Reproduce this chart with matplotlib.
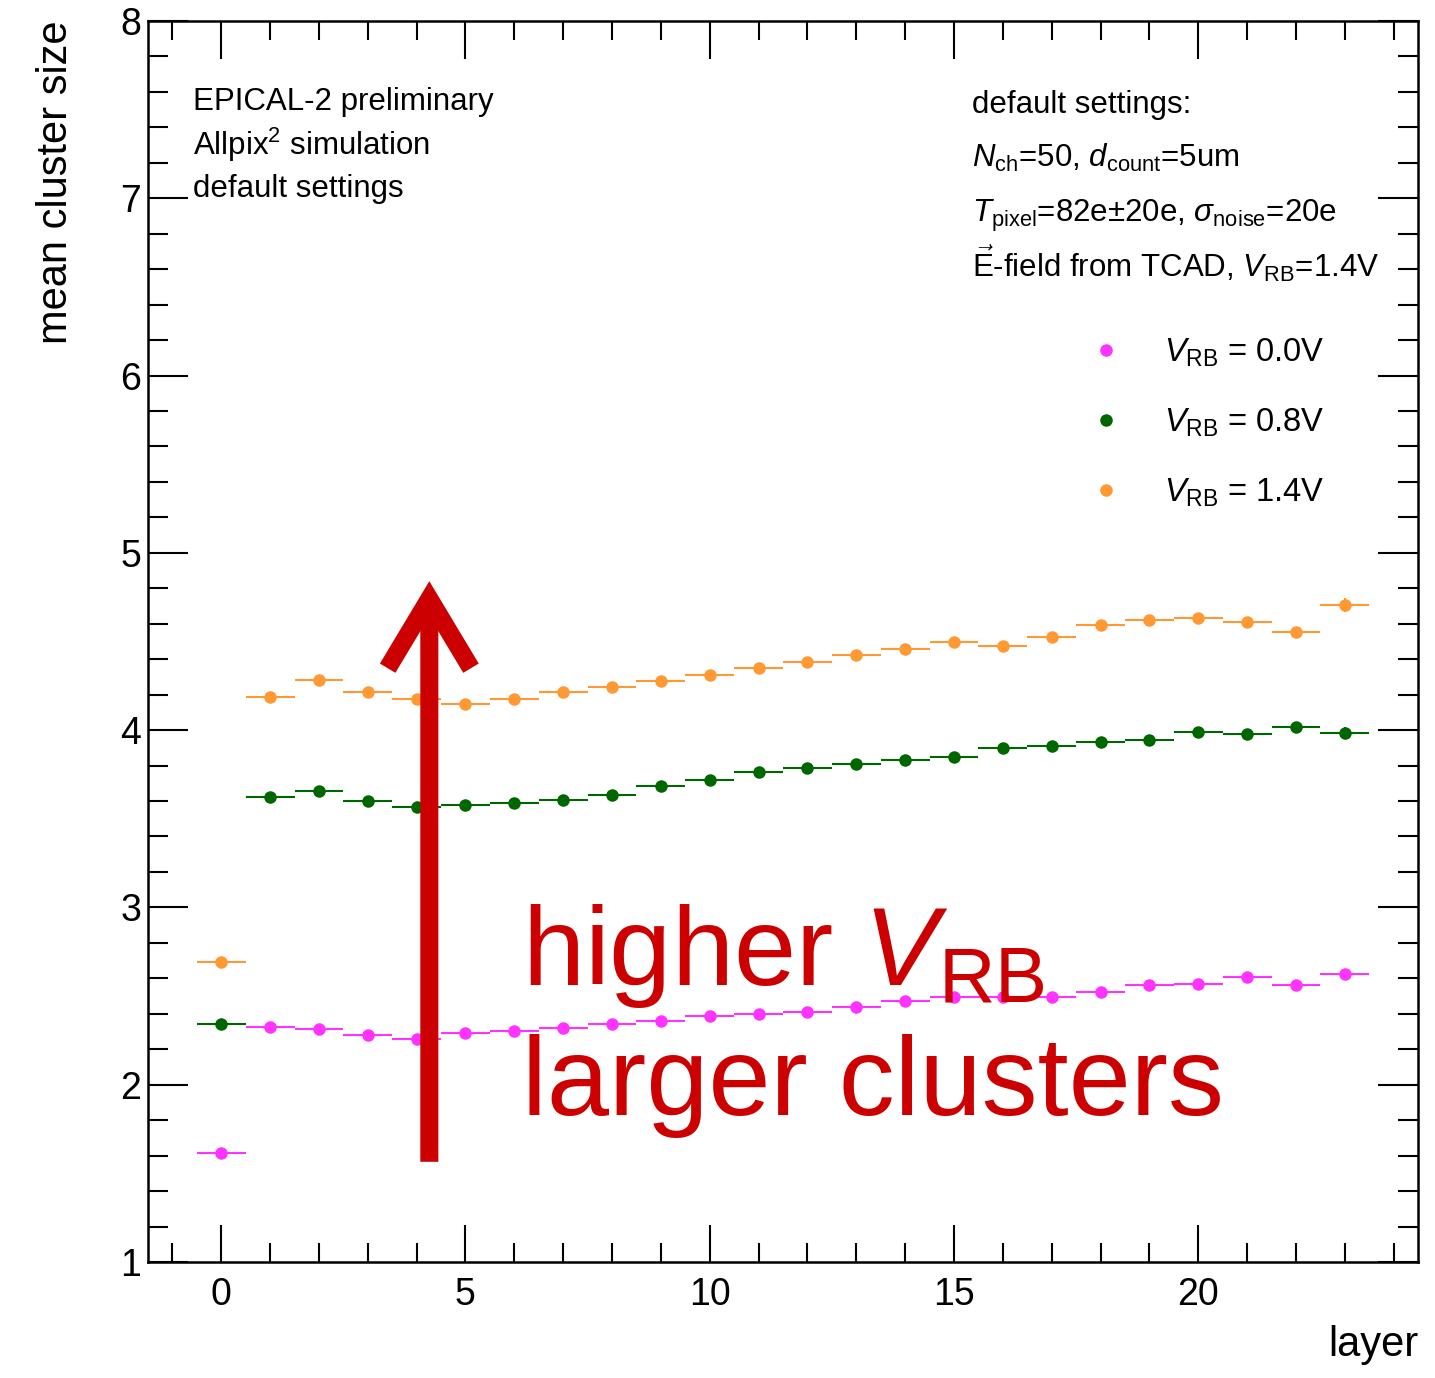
import numpy as np
import matplotlib
matplotlib.use('Agg')
import matplotlib.pyplot as plt
from matplotlib.lines import Line2D
from matplotlib.ticker import MultipleLocator

plt.rcParams['font.family'] = ['Liberation Sans', 'DejaVu Sans']
plt.rcParams['mathtext.fontset'] = 'custom'
plt.rcParams['mathtext.rm'] = 'Liberation Sans'
plt.rcParams['mathtext.it'] = 'Liberation Sans:italic'
plt.rcParams['mathtext.bf'] = 'Liberation Sans:bold'

# --- data ---
layers = list(range(24))

size_00 = [1.615, 2.326, 2.315, 2.28, 2.26, 2.29, 2.30, 2.32, 2.34, 2.36, 2.39, 2.40,
           2.41, 2.44, 2.47, 2.495, 2.495, 2.495, 2.52, 2.56, 2.57, 2.61, 2.56, 2.625]
size_08 = [2.343, 3.623, 3.657, 3.60, 3.567, 3.578, 3.59, 3.606, 3.635, 3.685, 3.72, 3.764,
           3.787, 3.81, 3.832, 3.85, 3.90, 3.91, 3.934, 3.945, 3.99, 3.98, 4.02, 3.985]
size_14 = [2.693, 4.187, 4.283, 4.215, 4.176, 4.148, 4.176, 4.215, 4.244, 4.278, 4.31, 4.35,
           4.385, 4.424, 4.458, 4.497, 4.475, 4.526, 4.593, 4.62, 4.633, 4.61, 4.554, 4.706]

err_00 = [0.005, 0.005, 0.005, 0.005, 0.005, 0.005, 0.005, 0.005, 0.005, 0.005, 0.005, 0.005,
          0.005, 0.005, 0.005, 0.005, 0.005, 0.005, 0.005, 0.005, 0.005, 0.005, 0.005, 0.01]
err_08 = [0.005, 0.005, 0.005, 0.005, 0.005, 0.005, 0.005, 0.005, 0.005, 0.005, 0.005, 0.005,
          0.005, 0.005, 0.005, 0.005, 0.005, 0.005, 0.005, 0.005, 0.005, 0.005, 0.01, 0.03]
err_14 = [0.005, 0.005, 0.005, 0.005, 0.005, 0.005, 0.005, 0.005, 0.005, 0.005, 0.005, 0.005,
          0.005, 0.005, 0.005, 0.005, 0.005, 0.005, 0.005, 0.005, 0.005, 0.005, 0.01, 0.04]

series = [
    (size_00, err_00, '#ff33ff', r'$V_{\mathrm{RB}}$ = 0.0V'),
    (size_08, err_08, '#006600', r'$V_{\mathrm{RB}}$ = 0.8V'),
    (size_14, err_14, '#ff9933', r'$V_{\mathrm{RB}}$ = 1.4V'),
]

# arrow annotation (data coords)
arrow_x = 4.26
arrow_from = 1.565
arrow_to = 4.84
red = '#cc0000'

# --- figure ---
fig = plt.figure(figsize=(14.35, 13.78), dpi=100)
ax = fig.add_axes([0.1031, 0.0842, 0.8851, 0.9006])

handles = []
for vals, errs, col, lab in series:
    ax.errorbar(layers, vals, xerr=0.5, yerr=errs, fmt='o', color=col, ms=9,
                elinewidth=1.5, capsize=0, mew=0)
    handles.append(Line2D([], [], ls='none', marker='o', color=col, ms=9, mew=0, label=lab))

ax.set_xlim(-1.5, 24.5)
ax.set_ylim(1, 8)

ax.xaxis.set_major_locator(MultipleLocator(5))
ax.xaxis.set_minor_locator(MultipleLocator(1))
ax.yaxis.set_major_locator(MultipleLocator(1))
ax.yaxis.set_minor_locator(MultipleLocator(0.2))
ax.tick_params(which='both', direction='in', top=True, right=True, width=1.5)
ax.tick_params(axis='x', which='major', length=27, labelsize=27, pad=11)
ax.tick_params(axis='x', which='minor', length=13.5)
ax.tick_params(axis='y', which='major', length=29, labelsize=27, pad=5)
ax.tick_params(axis='y', which='minor', length=14.5)
for s in ax.spines.values():
    s.set_linewidth(1.8)

ax.set_xlabel('layer', fontsize=30, loc='right')
ax.set_ylabel('mean cluster size', fontsize=30, loc='top')
ax.xaxis.set_label_coords(1.0, -0.051)
ax.yaxis.set_label_coords(-0.057, 1.0)

# top-left text
ax.text(0.0354, 0.928, 'EPICAL-2 preliminary', transform=ax.transAxes, fontsize=22.5, va='baseline')
ax.text(0.0354, 0.892, r'Allpix$^{2}$ simulation', transform=ax.transAxes, fontsize=22.5, va='baseline')
ax.text(0.0354, 0.858, 'default settings', transform=ax.transAxes, fontsize=22.5, va='baseline')

# settings block
ax.text(0.6488, 0.9259, 'default settings:', transform=ax.transAxes, fontsize=22.5, va='baseline')
ax.text(0.6488, 0.8823, r'$N_{\mathrm{ch}}$=50, $d_{\mathrm{count}}$=5um',
        transform=ax.transAxes, fontsize=22.5, va='baseline')
ax.text(0.6488, 0.8380, r'$T_{\mathrm{pixel}}$=82e$\pm$20e, $\sigma_{\mathrm{noise}}$=20e',
        transform=ax.transAxes, fontsize=22.5, va='baseline')
ax.text(0.6488, 0.7937, r'$\vec{\mathrm{E}}$-field from TCAD, $V_{\mathrm{RB}}$=1.4V',
        transform=ax.transAxes, fontsize=22.5, va='baseline')

ax.legend(handles=handles, loc='upper left', bbox_to_anchor=(0.7418, 0.7455),
          frameon=False, fontsize=23.5, handlelength=1.0, handletextpad=1.25,
          labelspacing=1.15, borderpad=0, borderaxespad=0)

# red annotation
ax.annotate('', xy=(arrow_x, arrow_to), xytext=(arrow_x, arrow_from),
            arrowprops=dict(arrowstyle='->, head_length=5.0, head_width=3.0',
                            lw=13, color=red, shrinkA=0, shrinkB=0,
                            mutation_scale=10, joinstyle='miter', capstyle='butt'))
ax.text(0.2945, 0.2232, r'higher $V_{\mathrm{RB}}$', transform=ax.transAxes,
        fontsize=80.5, color=red, va='baseline')
ax.text(0.2945, 0.1185, 'larger clusters', transform=ax.transAxes,
        fontsize=80.5, color=red, va='baseline')

fig.savefig('out.png', dpi=100)
